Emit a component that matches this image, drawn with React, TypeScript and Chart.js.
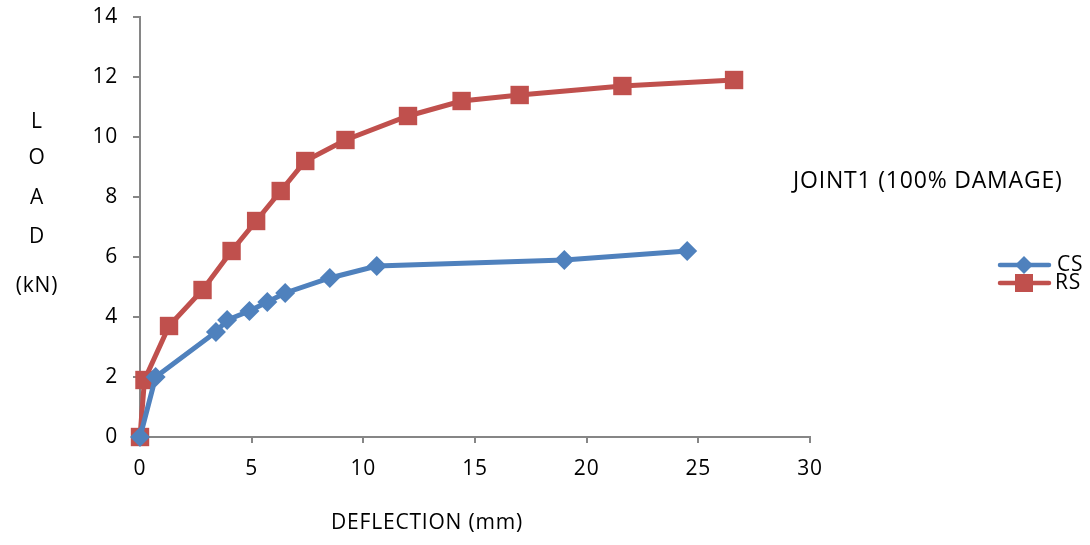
import React, { useEffect, useRef } from "react";
import { Chart, registerables } from "chart.js";

Chart.register(...registerables);

// Deflection (mm) and load (kN) readings for each specimen
const csDeflection = [0, 0.7, 3.4, 3.9, 4.9, 5.7, 6.5, 8.5, 10.6, 19.0, 24.5];
const csLoad = [0, 2.0, 3.5, 3.9, 4.2, 4.5, 4.8, 5.3, 5.7, 5.9, 6.2];

const rsDeflection = [0, 0.2, 1.3, 2.8, 4.1, 5.2, 6.3, 7.4, 9.2, 12.0, 14.4, 17.0, 21.6, 26.6];
const rsLoad = [0, 1.9, 3.7, 4.9, 6.2, 7.2, 8.2, 9.2, 9.9, 10.7, 11.2, 11.4, 11.7, 11.9];

const seriesNames = ["CS", "RS"];
const legendTitle = "JOINT1 (100% DAMAGE)";
const xTitle = "DEFLECTION (mm)";
const yTitleLetters = ["L", "O", "A", "D", "(kN)"];

const BLUE = "#4F81BD";
const RED = "#C0504D";
const FONT = "'Open Sans', sans-serif";
const FONT_SIZE = 21;
const SPACING = "0.8px";

const toPoints = (xs: number[], ys: number[]) => xs.map((x, i) => ({ x, y: ys[i] }));

// widen glyph spacing for all canvas text
const spacing = {
  id: "spacing",
  beforeDraw(chart: any) {
    (chart.ctx as any).letterSpacing = SPACING;
  },
};

const annotations = {
  id: "annotations",
  afterDraw(chart: any) {
    const ctx = chart.ctx as CanvasRenderingContext2D;
    ctx.save();
    (ctx as any).letterSpacing = SPACING;
    ctx.fillStyle = "#000";
    ctx.font = `${FONT_SIZE}px ${FONT}`;
    ctx.textBaseline = "middle";

    // axis titles
    ctx.textAlign = "center";
    ctx.fillText(xTitle, 427, 523);
    const yPos = [122, 158, 198, 237, 286];
    yTitleLetters.forEach((t, i) => ctx.fillText(t, 37, yPos[i]));

    // legend
    ctx.textAlign = "left";
    ctx.save();
    ctx.font = `23px ${FONT}`;
    ctx.fillText(legendTitle, 793, 181);
    ctx.restore();
    const rows = [
      { y: 265, color: BLUE, style: "diamond" },
      { y: 283, color: RED, style: "square" },
    ];
    rows.forEach((r, i) => {
      ctx.strokeStyle = r.color;
      ctx.lineWidth = 4.5;
      ctx.lineCap = "round";
      ctx.beginPath();
      ctx.moveTo(1000, r.y);
      ctx.lineTo(1049, r.y);
      ctx.stroke();
      ctx.fillStyle = r.color;
      const cx = 1024;
      if (r.style === "diamond") {
        ctx.beginPath();
        ctx.moveTo(cx, r.y - 9);
        ctx.lineTo(cx + 9, r.y);
        ctx.lineTo(cx, r.y + 9);
        ctx.lineTo(cx - 9, r.y);
        ctx.closePath();
        ctx.fill();
      } else {
        ctx.fillRect(cx - 9, r.y - 9, 18, 18);
      }
      ctx.fillStyle = "#000";
      ctx.fillText(seriesNames[i], i === 0 ? 1057 : 1055, r.y);
    });
    ctx.restore();
  },
};

export default function App() {
  const ref = useRef<HTMLCanvasElement>(null);

  useEffect(() => {
    if (!ref.current) return;
    const chart = new Chart(ref.current, {
      type: "line",
      data: {
        datasets: [
          {
            label: seriesNames[0],
            data: toPoints(csDeflection, csLoad),
            borderColor: BLUE,
            backgroundColor: BLUE,
            borderWidth: 5,
            pointStyle: "rectRot",
            pointRadius: 10,
            pointHoverRadius: 10,
            pointBorderWidth: 0,
            tension: 0,
            clip: false,
          },
          {
            label: seriesNames[1],
            data: toPoints(rsDeflection, rsLoad),
            borderColor: RED,
            backgroundColor: RED,
            borderWidth: 5,
            pointStyle: "rect",
            pointRadius: 13,
            pointHoverRadius: 13,
            pointBorderWidth: 0,
            tension: 0,
            clip: false,
          },
        ],
      },
      options: {
        animation: false,
        responsive: false,
        events: [],
        layout: { padding: { left: 0, top: 17, right: 280, bottom: 0 } },
        plugins: { legend: { display: false }, tooltip: { enabled: false } },
        scales: {
          x: {
            type: "linear",
            min: 0,
            max: 30,
            ticks: { stepSize: 5, color: "#000", font: { family: FONT, size: FONT_SIZE }, padding: 13 },
            grid: { drawOnChartArea: false, drawTicks: true, tickLength: 6, color: "#868686", lineWidth: 2 },
            border: { color: "#868686", width: 2 },
            afterFit: (s: any) => {
              s.height = 108;
              s.paddingLeft = 0;
              s.paddingRight = 0;
            },
          },
          y: {
            min: 0,
            max: 14,
            ticks: { stepSize: 2, color: "#000", font: { family: FONT, size: FONT_SIZE }, padding: 15 },
            grid: { drawOnChartArea: false, drawTicks: true, tickLength: 7, color: "#868686", lineWidth: 2 },
            border: { color: "#868686", width: 2 },
            afterFit: (s: any) => {
              s.width = 140;
              s.paddingTop = 0;
              s.paddingBottom = 0;
            },
          },
        },
      },
      plugins: [spacing, annotations],
    });
    return () => chart.destroy();
  }, []);

  return (
    <div style={{ position: "fixed", left: 0, top: 0, width: 1090, height: 545, background: "#fff" }}>
      <canvas ref={ref} width={1090} height={545} />
    </div>
  );
}
